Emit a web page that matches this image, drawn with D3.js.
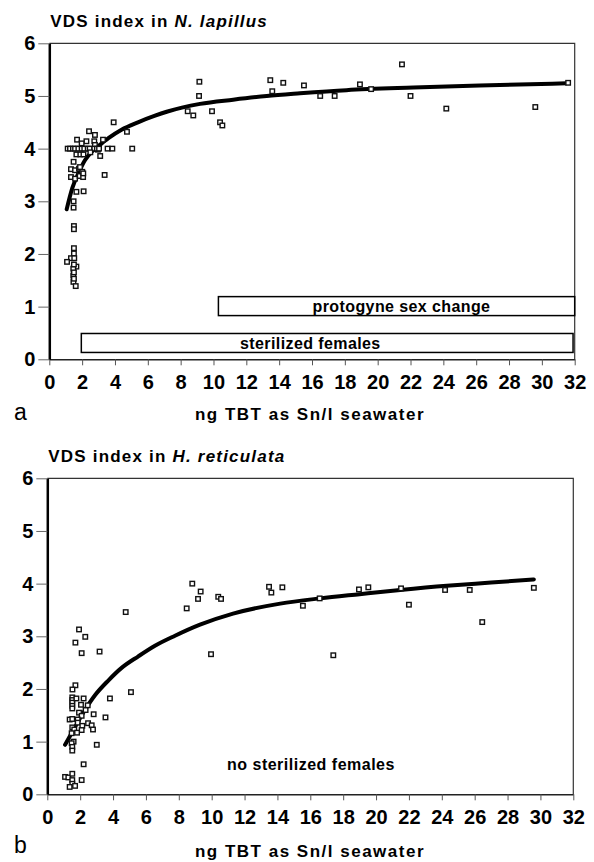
<!DOCTYPE html>
<html>
<head>
<meta charset="utf-8">
<script src="https://cdnjs.cloudflare.com/ajax/libs/d3/7.8.5/d3.min.js"></script>
<style>
  body { margin: 0; background: #fff; }
  text { font-family: "Liberation Sans", Arial, sans-serif; }
</style>
</head>
<body>
<div id="chart"></div>
<script>
// Data
// ==============================
var xTicks = [0, 2, 4, 6, 8, 10, 12, 14, 16, 18, 20, 22, 24, 26, 28, 30, 32];
var yTicks = [0, 1, 2, 3, 4, 5, 6];

// panel a: N. lapillus
var lapX = [9.14, 9.12, 8.43, 8.77, 9.91, 10.4, 10.54, 13.46, 13.58, 14.25, 15.51, 16.5, 17.38, 18.92, 19.6, 21.48, 22.0, 24.18, 29.6, 31.6,
  3.92, 4.73, 5.05, 3.37, 3.55, 3.84, 2.42, 2.78, 2.74, 2.26, 1.69, 1.97, 3.27, 3.1, 2.78, 2.96,
  1.12, 1.26, 1.44, 1.57, 1.77, 1.97, 2.13, 2.34, 2.46, 2.74, 2.9, 3.03,
  1.65, 1.89, 2.08, 2.5, 1.48, 1.32, 1.57, 1.81, 2.01, 1.32, 1.57, 1.85, 2.06, 1.87, 2.07, 1.65, 2.09, 1.48, 1.48, 1.5, 1.5,
  1.5, 1.5, 1.32, 1.08, 1.52, 1.65, 1.46, 1.46, 1.47, 1.61, 1.5, 1.5, 1.5];
var lapY = [5.27, 5.0, 4.71, 4.63, 4.71, 4.5, 4.44, 5.3, 5.09, 5.25, 5.2, 5.0, 5.0, 5.22, 5.13, 5.6, 5.0, 4.76, 4.79, 5.25,
  4.5, 4.32, 4.0, 3.5, 4.0, 4.0, 4.33, 4.26, 4.14, 4.14, 4.17, 4.1, 4.17, 3.86, 4.07, 3.98,
  4.0, 4.0, 4.0, 4.0, 4.0, 4.0, 4.0, 4.0, 4.0, 4.0, 4.0, 4.0,
  3.89, 3.89, 3.89, 3.93, 3.75, 3.61, 3.59, 3.62, 3.56, 3.46, 3.43, 3.48, 3.46, 3.65, 3.53, 3.18, 3.19, 3.0, 2.88, 2.53, 2.47,
  2.11, 2.01, 1.92, 1.85, 1.92, 1.76, 1.72, 1.59, 1.47, 1.39, 1.8, 1.65, 1.53];
var lapCurveX = [1.06, 1.4, 1.77, 2.17, 2.58, 3.0, 3.6, 4.4, 5.4, 6.4, 7.15, 9.18, 11.2, 13.24, 15.27, 18.1, 22.17, 26.2, 31.5];
var lapCurveY = [2.85, 3.25, 3.53, 3.78, 3.94, 4.05, 4.2, 4.36, 4.5, 4.62, 4.7, 4.85, 4.93, 5.0, 5.05, 5.11, 5.16, 5.2, 5.24];

// panel b: H. reticulata
var retX = [1.93, 1.71, 2.31, 4.77, 8.48, 8.82, 9.17, 9.33, 10.4, 10.57, 13.49, 13.63, 14.3, 15.55, 16.57, 18.96, 19.53, 21.52, 22.0, 24.2, 25.7, 26.46, 29.6,
  17.4, 9.96, 3.18, 2.09, 5.09, 3.81, 3.54, 3.01, 2.82,
  1.71, 1.53, 1.52, 1.52, 1.52, 1.52, 1.52, 1.77, 2.21, 2.05, 2.46, 2.33, 1.93, 2.09, 1.36, 1.52, 1.85, 1.85, 2.13, 2.48, 2.7, 2.78,
  1.52, 1.64, 2.09, 1.48, 1.81, 1.6, 1.48, 1.52, 1.52, 2.21, 1.08, 1.28, 1.52, 1.52, 1.52, 1.36, 1.69, 2.09];
var retY = [3.13, 2.88, 2.99, 3.46, 3.53, 4.0, 3.71, 3.85, 3.75, 3.71, 3.94, 3.83, 3.93, 3.58, 3.72, 3.89, 3.93, 3.91, 3.6, 3.88, 3.88, 3.27, 3.92,
  2.64, 2.66, 2.71, 2.68, 1.94, 1.82, 1.46, 0.94, 1.52,
  2.07, 1.99, 1.84, 1.79, 1.74, 1.68, 1.63, 1.82, 1.82, 1.7, 1.69, 1.6, 1.55, 1.49, 1.42, 1.43, 1.42, 1.36, 1.3, 1.35, 1.31, 1.23,
  1.27, 1.23, 1.22, 1.16, 1.17, 1.0, 0.97, 0.9, 0.83, 0.57, 0.33, 0.32, 0.39, 0.27, 0.2, 0.14, 0.16, 0.27];
var retCurveX = [1.08, 1.69, 2.29, 2.9, 3.71, 4.52, 5.54, 6.55, 7.77, 9.29, 11.3, 14.17, 16.6, 19.0, 21.47, 24.3, 27.0, 29.6];
var retCurveY = [0.94, 1.28, 1.6, 1.88, 2.16, 2.4, 2.62, 2.82, 3.01, 3.22, 3.43, 3.62, 3.72, 3.8, 3.88, 3.96, 4.02, 4.08];

// labelled boxes in panel a: [x0, x1, y0, y1]
var boxLabels = ["protogyne sex change", "sterilized females"];
var boxExtents = [[10.3, 32, 0.83, 1.19], [1.95, 31.9, 0.13, 0.49]];
var boxTextPos = [[21.45, 0.9], [15.9, 0.2]];

var svgWidth = 594;
var svgHeight = 862;

var svg = d3.select("#chart")
  .append("svg")
  .attr("width", svgWidth)
  .attr("height", svgHeight);

svg.append("rect").attr("width", svgWidth).attr("height", svgHeight).attr("fill", "#fff");

function drawPanel(p) {
  var xScale = d3.scaleLinear().domain([0, 32]).range([p.left, p.right]);
  var yScale = d3.scaleLinear().domain([0, 6]).range([p.bottom, p.top]);

  // frame (top + right thin)
  svg.append("path")
    .attr("d", `M${p.left},${p.top}H${p.right}V${p.bottom}`)
    .attr("fill", "none")
    .attr("stroke", "#333")
    .attr("stroke-width", 1.2);

  // axes
  var bottomAxis = d3.axisBottom(xScale).tickValues(xTicks).tickFormat(d3.format("d"))
    .tickSize(6).tickSizeOuter(0).tickPadding(10);
  var leftAxis = d3.axisLeft(yScale).tickValues(yTicks).tickFormat(d3.format("d"))
    .tickSize(11).tickSizeOuter(0).tickPadding(3);

  var gx = svg.append("g")
    .attr("transform", `translate(0, ${p.bottom})`)
    .call(bottomAxis);
  gx.select(".domain").attr("stroke", "#222").attr("stroke-width", 1.5);
  gx.selectAll(".tick line").attr("stroke", "#555").attr("stroke-width", 1);
  gx.selectAll("text")
    .attr("fill", "#000")
    .style("font-size", "20px")
    .style("font-weight", "bold");

  var gy = svg.append("g")
    .attr("transform", `translate(${p.left}, 0)`)
    .call(leftAxis);
  gy.select(".domain").attr("stroke", "#000").attr("stroke-width", 2.5);
  gy.selectAll(".tick line").attr("stroke", "#666").attr("stroke-width", 1);
  gy.selectAll("text")
    .attr("fill", "#000")
    .style("font-size", "20px")
    .style("font-weight", "bold");

  // title
  var title = svg.append("text")
    .attr("x", p.left + 1)
    .attr("y", p.titleY)
    .style("font-size", "17px")
    .style("font-weight", "bold")
    .style("letter-spacing", "1.2px");
  title.append("tspan").text(p.title);
  title.append("tspan").style("font-style", "italic").text(p.species);

  // axis title
  svg.append("text")
    .attr("x", 310)
    .attr("y", p.bottom + p.axisTitleDy)
    .style("text-anchor", "middle")
    .style("font-size", "17px")
    .style("font-weight", "bold")
    .style("letter-spacing", "1.5px")
    .text("ng TBT as Sn/l seawater");

  // panel letter
  svg.append("text")
    .attr("x", 14)
    .attr("y", p.bottom + p.letterDy)
    .style("font-size", "23px")
    .text(p.letter);

  // fitted curve
  var curveData = p.curveX.map((x, i) => [x, p.curveY[i]]);
  var line = d3.line()
    .x(d => xScale(d[0]))
    .y(d => yScale(d[1]))
    .curve(d3.curveMonotoneX);
  svg.append("path")
    .datum(curveData)
    .attr("d", line)
    .attr("fill", "none")
    .attr("stroke", "#000")
    .attr("stroke-width", 4)
    .attr("stroke-linecap", "round");

  // points
  var pts = p.xs.map((x, i) => ({ x: x, y: p.ys[i] }));
  var s = 4.5;
  svg.selectAll(null)
    .data(pts)
    .enter()
    .append("rect")
    .attr("x", d => xScale(d.x) - s / 2)
    .attr("y", d => yScale(d.y) - s / 2)
    .attr("width", s)
    .attr("height", s)
    .attr("fill", "#fff")
    .attr("stroke", "#111")
    .attr("stroke-width", 1.4);

  return { x: xScale, y: yScale };
}

// Panel a
var a = drawPanel({
  left: 49.3, right: 574.7, top: 43.3, bottom: 359.3,
  titleY: 26.7, title: "VDS index in ", species: "N. lapillus",
  axisTitleDy: 61, letterDy: 61, letter: "a",
  xs: lapX, ys: lapY, curveX: lapCurveX, curveY: lapCurveY
});

boxExtents.forEach(function(b, i) {
  svg.append("rect")
    .attr("x", a.x(b[0]))
    .attr("y", a.y(b[3]))
    .attr("width", a.x(b[1]) - a.x(b[0]))
    .attr("height", a.y(b[2]) - a.y(b[3]))
    .attr("fill", "#fff")
    .attr("stroke", "#000")
    .attr("stroke-width", 1.5);
  svg.append("text")
    .attr("x", a.x(boxTextPos[i][0]))
    .attr("y", a.y(boxTextPos[i][1]))
    .style("text-anchor", "middle")
    .style("font-size", "16px")
    .style("font-weight", "bold")
    .style("letter-spacing", "0.4px")
    .text(boxLabels[i]);
});

// Panel b
var b = drawPanel({
  left: 47.3, right: 573.3, top: 478.3, bottom: 794.3,
  titleY: 461.7, title: "VDS index in ", species: "H. reticulata",
  axisTitleDy: 62.5, letterDy: 59, letter: "b",
  xs: retX, ys: retY, curveX: retCurveX, curveY: retCurveY
});

svg.append("text")
  .attr("x", b.x(16.04))
  .attr("y", b.y(0.46))
  .style("text-anchor", "middle")
  .style("font-size", "16px")
  .style("font-weight", "bold")
  .style("letter-spacing", "0.5px")
  .text("no sterilized females");
</script>
</body>
</html>
